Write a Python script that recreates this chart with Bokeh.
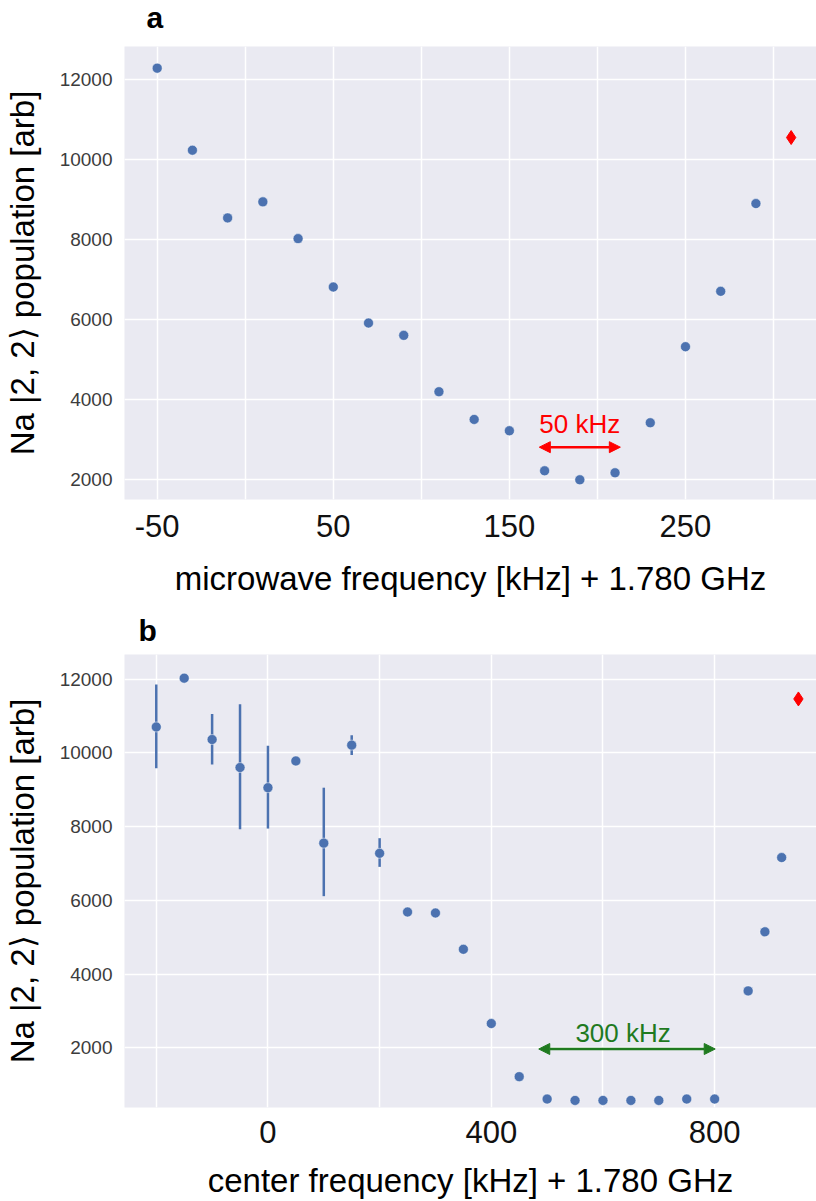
from bokeh.plotting import figure
from bokeh.layouts import column
from bokeh.models import FixedTicker, Range1d, Arrow, NormalHead, Label
from bokeh.embed import file_html
from bokeh.resources import INLINE

# ---------------- data ----------------
# panel a
a_freq = [-50, -30, -10, 10, 30, 50, 70, 90, 110, 130, 150, 170, 190, 210, 230, 250, 270, 290]
a_pop = [12283, 10233, 8543, 8943, 8025, 6815, 5915, 5608, 4200, 3508, 3225, 2225, 2000, 2175,
         3425, 5325, 6708, 8900]
a_ref_freq = [310]
a_ref_pop = [10550]
a_xticks = [-50, 50, 150, 250]
a_xgrid = [-50, 0, 50, 100, 150, 200, 250, 300]

# panel b
b_freq = [-200, -150, -100, -50, 0, 50, 100, 150, 200, 250, 300, 350, 400, 450, 500, 550, 600,
          650, 700, 750, 800, 860, 890, 920]
b_pop = [10703, 12027, 10362, 9602, 9055, 9780, 7551, 10210, 7274, 5682, 5655, 4670, 2656, 1215,
         607, 570, 570, 570, 570, 607, 607, 3542, 5145, 7159]
b_err_freq = [-200, -100, -50, 0, 100, 150, 200]
b_err_hi = [11858, 11052, 11321, 10193, 9055, 10478, 7685]
b_err_lo = [9584, 9683, 7927, 7946, 6112, 9941, 6907]
b_ref_freq = [950]
b_ref_pop = [11463]
b_xticks = [0, 400, 800]
b_xgrid = [-200, 0, 200, 400, 600, 800, 1000]

yticks = [2000, 4000, 6000, 8000, 10000, 12000]

FONT = "Liberation Sans"
BLUE = "#4C72B0"
BG = "#EAEAF2"


def letter_strip(text, height, x_px, y_px):
    # a thin, axis-less strip above each panel holding the bold panel letter;
    # its frame lines up with the panel frame (left border 124 px)
    s = figure(width=816, height=height, x_range=Range1d(0, 692), y_range=Range1d(0, height),
               x_axis_type=None, y_axis_type=None,
               output_backend="svg", toolbar_location=None,
               min_border_left=124, min_border_right=0, min_border_top=0, min_border_bottom=0)
    s.grid.visible = False
    s.outline_line_color = None
    s.background_fill_color = "white"
    s.border_fill_color = "white"
    s.add_layout(Label(x=x_px, y=y_px, text=text, text_align="left",
                       text_baseline="alphabetic", text_font=FONT, text_font_size="30px",
                       text_font_style="bold", text_color="black"))
    return s


def base_fig(height, xr, yr, xlabel, b_bottom, xticks, xgrid):
    p = figure(width=816, height=height, x_range=Range1d(*xr), y_range=Range1d(*yr),
               output_backend="svg", toolbar_location=None,
               min_border_left=124, min_border_right=0,
               min_border_top=0, min_border_bottom=b_bottom)
    p.background_fill_color = BG
    p.border_fill_color = "white"
    p.outline_line_color = None

    p.xaxis.ticker = FixedTicker(ticks=xticks)
    p.xgrid.ticker = FixedTicker(ticks=xgrid)
    p.yaxis.ticker = FixedTicker(ticks=yticks)
    p.xaxis.major_label_overrides = {t: str(t) for t in xticks}
    for g in (p.xgrid, p.ygrid):
        g.grid_line_color = "white"
        g.grid_line_width = 1.5
    for ax in (p.xaxis, p.yaxis):
        ax.axis_line_color = None
        ax.major_tick_line_color = None
        ax.minor_tick_line_color = None
        ax.major_tick_out = 0
        ax.major_tick_in = 0
        ax.minor_tick_out = 0
        ax.minor_tick_in = 0
        ax.major_label_text_font = FONT
        ax.axis_label_text_font = FONT
        ax.axis_label_text_font_style = "normal"
        ax.axis_label_text_color = "black"
        ax.axis_label_text_font_size = "33px"
    p.xaxis.major_label_text_font_size = "31px"
    p.xaxis.major_label_text_color = "#111111"
    p.yaxis.major_label_text_font_size = "19px"
    p.yaxis.major_label_text_color = "#3c3c3c"
    p.xaxis.major_label_standoff = 10
    p.yaxis.major_label_standoff = 12
    p.xaxis.axis_label = xlabel
    p.yaxis.axis_label = "Na |2, 2\u27e9 population [arb]"
    p.yaxis.axis_label_standoff = 16
    return p


# ---------------- panel a ----------------
ta = letter_strip("a", 46, 22, 29)
pa = base_fig(554, (-68.57, 324.4), (1508, 12824),
              "microwave frequency [kHz] + 1.780 GHz", 101, a_xticks, a_xgrid)
pa.xaxis.axis_label_standoff = 20
pa.xaxis.major_label_standoff = 15
pa.scatter(a_freq, a_pop, size=10, color=BLUE, line_color="white", line_width=0.5)
pa.scatter(a_ref_freq, a_ref_pop, marker="diamond", size=14, color="red")
pa.add_layout(Arrow(x_start=167, y_start=2815, x_end=213, y_end=2815,
                    line_color="red", line_width=2.5,
                    start=NormalHead(size=11, fill_color="red", line_color="red"),
                    end=NormalHead(size=11, fill_color="red", line_color="red")))
pa.add_layout(Label(x=190, y=3400, text="50 kHz", text_align="center",
                    text_baseline="alphabetic", text_color="red",
                    text_font=FONT, text_font_size="26px"))

# ---------------- panel b ----------------
tb = letter_strip("b", 54, 14, 24)
pb = base_fig(547, (-256.9, 982.4), (378, 12669),
              "center frequency [kHz] + 1.780 GHz", 88, b_xticks, b_xgrid)
pb.xaxis.axis_label_standoff = 16
pb.xaxis.major_label_standoff = 13
pb.segment(b_err_freq, b_err_lo, b_err_freq, b_err_hi, line_color=BLUE, line_width=2.5)
pb.scatter(b_freq, b_pop, size=10, color=BLUE, line_color="white", line_width=0.5)
pb.scatter(b_ref_freq, b_ref_pop, marker="diamond", size=14, color="red")
GREEN = "#1f7a1f"
pb.add_layout(Arrow(x_start=485, y_start=1965, x_end=801, y_end=1965,
                    line_color=GREEN, line_width=2.5,
                    start=NormalHead(size=11, fill_color=GREEN, line_color=GREEN),
                    end=NormalHead(size=11, fill_color=GREEN, line_color=GREEN)))
pb.add_layout(Label(x=636, y=2400, text="300 kHz", text_align="center",
                    text_baseline="alphabetic", text_color=GREEN,
                    text_font=FONT, text_font_size="26px"))

layout = column(ta, pa, tb, pb, spacing=0)
open("out.html", "w").write(file_html(layout, INLINE))
